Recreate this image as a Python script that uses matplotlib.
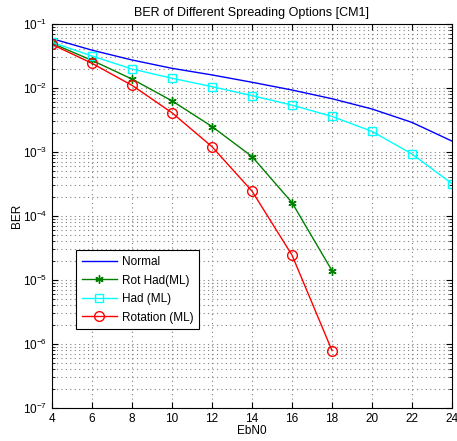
import numpy as np
import matplotlib
matplotlib.use("Agg")
import matplotlib.pyplot as plt
from matplotlib.ticker import LogLocator, NullFormatter

plt.rcParams['font.family'] = ['Liberation Sans', 'DejaVu Sans']
plt.rcParams['mathtext.default'] = 'regular'
plt.rcParams['font.size'] = 8.5

# Eb/N0 points
ebn0 = [4, 6, 8, 10, 12, 14, 16, 18, 20, 22, 24]
ebn0_short = [4, 6, 8, 10, 12, 14, 16, 18]

# BER curves
ber_normal = [0.059, 0.039, 0.0274, 0.0203, 0.016, 0.0123, 0.0093, 0.0068, 0.0047, 0.0029, 0.00148]
ber_had = [0.0518, 0.0316, 0.0198, 0.0142, 0.0105, 0.0076, 0.0054, 0.0036, 0.0021, 0.00093, 0.00032]
ber_rothad = [0.050, 0.027, 0.0138, 0.0063, 0.0025, 0.00085, 0.000162, 1.4e-5]
ber_rot = [0.048, 0.0243, 0.011, 0.0041, 0.00121, 0.000245, 2.45e-5, 7.9e-7]

fig = plt.figure(figsize=(4.57, 4.41), dpi=100)
ax = fig.add_axes([52 / 457, 1 - 408 / 441, 400 / 457, 384 / 441])

ax.semilogy(ebn0, ber_normal, color="blue", lw=1, label="Normal")
ax.semilogy(ebn0_short, ber_rothad, color="green", marker=(6, 2, 0), ms=6, lw=1,
            mec="green", label="Rot Had(ML)")
ax.semilogy(ebn0, ber_had, color="cyan", marker="s", ms=5.5, mfc="none", mec="cyan",
            lw=1, label="Had (ML)")
ax.semilogy(ebn0_short, ber_rot, color="red", marker="o", ms=7, mfc="none", mec="red",
            lw=1, label="Rotation (ML)")

ax.set_xlim(4, 24)
ax.set_ylim(1e-7, 1e-1)
ax.set_xticks(range(4, 25, 2))
ax.yaxis.set_major_locator(LogLocator(base=10, numticks=10))
ax.yaxis.set_minor_locator(LogLocator(base=10, subs=np.arange(2, 10), numticks=20))
ax.yaxis.set_minor_formatter(NullFormatter())
ax.tick_params(which="both", direction="in", top=True, right=True)
ax.tick_params(which="major", length=4)
ax.tick_params(which="minor", length=2)
ax.grid(True, which="major", ls=(0, (1, 3)), color="gray", lw=0.8)
ax.grid(True, which="minor", axis="y", ls=(0, (1, 3)), color="gray", lw=0.8)

ax.set_title("BER of Different Spreading Options [CM1]", fontsize=9, pad=6)
ax.set_xlabel("EbN0", labelpad=0)
ax.set_ylabel("BER", labelpad=0)

leg = ax.legend(loc="upper left", bbox_to_anchor=(0.059, 0.411), borderaxespad=0,
                fancybox=False, edgecolor="black", framealpha=1, fontsize=8.5,
                handlelength=3.0, handletextpad=0.4, borderpad=0.5, labelspacing=0.55)
leg.get_frame().set_linewidth(0.8)

fig.savefig("out.png", dpi=100)
